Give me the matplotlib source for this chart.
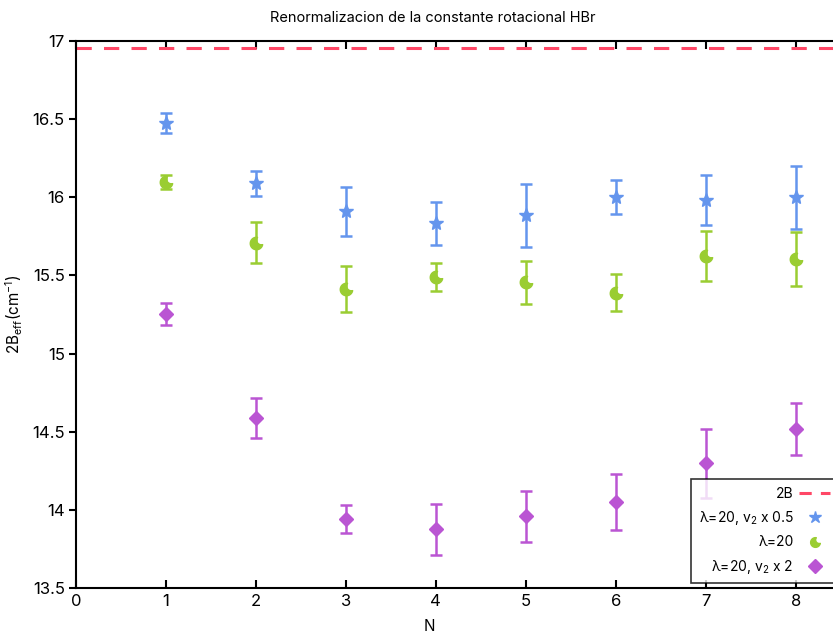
import numpy as np
import matplotlib
matplotlib.use("Agg")
import matplotlib.pyplot as plt
from matplotlib.path import Path
from matplotlib.lines import Line2D

plt.rcParams['font.family'] = ['Inter', 'DejaVu Sans']
plt.rcParams['mathtext.fontset'] = 'custom'
plt.rcParams['mathtext.rm'] = 'Inter'
plt.rcParams['mathtext.it'] = 'Inter'

N = [1, 2, 3, 4, 5, 6, 7, 8]
B2 = 16.955

# lambda=20, v2 x 0.5
b_half = [16.475, 16.09, 15.91, 15.835, 15.885, 16.0, 15.985, 16.0]
e_half = [0.065, 0.08, 0.158, 0.138, 0.20, 0.11, 0.16, 0.20]
# lambda=20
b_mid = [16.095, 15.71, 15.415, 15.49, 15.455, 15.39, 15.625, 15.605]
e_mid = [0.045, 0.13, 0.146, 0.09, 0.14, 0.12, 0.158, 0.17]
# lambda=20, v2 x 2
b_dbl = [15.253, 14.59, 13.94, 13.875, 13.96, 14.05, 14.298, 14.515]
e_dbl = [0.07, 0.128, 0.09, 0.163, 0.163, 0.18, 0.22, 0.166]


def moon_marker(d=0.95, r=0.75, phi=35):
    # circle with a round bite taken out of one side
    x = (d**2 + 1 - r**2) / (2 * d)
    y = np.sqrt(1 - x**2)
    a = np.arctan2(y, x)
    b = np.arctan2(y, x - d)
    t1 = np.linspace(a, 2 * np.pi - a, 60)
    t2 = np.linspace(2 * np.pi - b, b, 40)
    px = np.concatenate([np.cos(t1), d + r * np.cos(t2)])
    py = np.concatenate([np.sin(t1), r * np.sin(t2)])
    c, s = np.cos(np.radians(phi)), np.sin(np.radians(phi))
    verts = np.column_stack([c * px - s * py, s * px + c * py])
    verts = np.vstack([verts, verts[:1]])
    codes = [Path.MOVETO] + [Path.LINETO] * (len(verts) - 2) + [Path.CLOSEPOLY]
    return Path(verts, codes)


blue = '#6495ED'
green = '#9ACD32'
purple = '#BA55D3'
red = '#FF4766'
moon = moon_marker()

fig = plt.figure(figsize=(8.33, 6.32), dpi=100)
ax = fig.add_axes([0.0912, 0.0696, 0.918, 0.8655])

ax.axhline(B2, color=red, lw=2.2, dashes=(5, 4))

kw = dict(ls='none', elinewidth=1.8, capsize=4, capthick=1.8)
ax.errorbar(N, b_half, yerr=e_half, color=blue, marker='*', ms=10, **kw)
ax.errorbar(N, b_mid, yerr=e_mid, color=green, marker=moon, ms=9, **kw)
ax.errorbar(N, b_dbl, yerr=e_dbl, color=purple, marker='D', ms=7, **kw)

ax.set_xlim(0, 8.5)
ax.set_ylim(13.5, 17)
ax.set_xticks(range(0, 9))
yt = np.arange(13.5, 17.01, 0.5)
ax.set_yticks(yt)
ax.set_yticklabels(['%g' % v for v in yt])

for sp in ax.spines.values():
    sp.set_linewidth(1.5)
ax.spines['right'].set_visible(False)
ax.tick_params(axis='x', direction='in', top=True, length=6, width=1.5,
               labelsize=12, pad=4)
ax.tick_params(axis='y', direction='out', length=5, width=1.5,
               labelsize=12, pad=3)

fig.text(0.52, 0.972, 'Renormalizacion de la constante rotacional HBr',
         fontsize=10.5, ha='center', va='center')
ax.set_xlabel('N', fontsize=11)
ax.xaxis.set_label_coords(0.4627, -0.056)
ax.set_ylabel(r'2B$_{\rm eff}$(cm$^{-1}$)', fontsize=11)
ax.yaxis.set_label_coords(-0.066, 0.5)

# legend entries without the error bars
handles = [
    Line2D([], [], color=red, lw=2.2, dashes=(4, 3)),
    Line2D([], [], color=blue, ls='none', marker='*', ms=9),
    Line2D([], [], color=green, ls='none', marker=moon, ms=7),
    Line2D([], [], color=purple, ls='none', marker='D', ms=7),
]
labels = ['2B', r'λ=20, v$_2$ x 0.5', 'λ=20', r'λ=20, v$_2$ x 2']
leg = ax.legend(handles, labels, loc='lower left', markerfirst=False,
                bbox_to_anchor=(0.8295, 0.077), bbox_transform=fig.transFigure,
                borderaxespad=0, fontsize=10, frameon=True, fancybox=False,
                handlelength=2.2, handletextpad=0.4, labelspacing=0.6,
                borderpad=0.55, alignment='right')
leg.get_frame().set_edgecolor('black')
leg.get_frame().set_linewidth(1.2)
for t in leg.get_texts():
    t.set_ha('right')

fig.savefig('out.png', dpi=100)
